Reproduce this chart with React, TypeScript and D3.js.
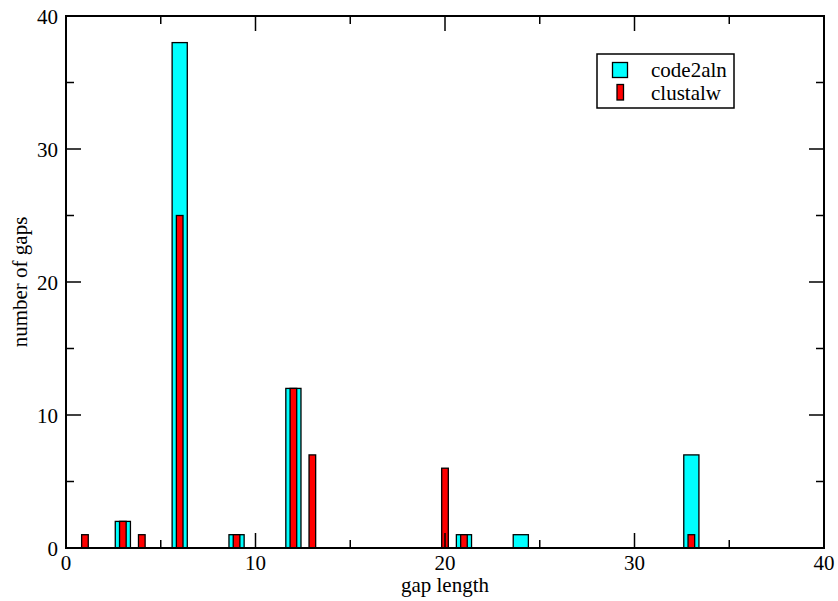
import React from "react";
import * as d3 from "d3";

const code2alnLengths = [3, 6, 9, 12, 21, 24, 33];
const code2alnCounts = [2, 38, 1, 12, 1, 1, 7];
const clustalwLengths = [1, 3, 4, 6, 9, 12, 13, 20, 21, 33];
const clustalwCounts = [1, 2, 1, 25, 1, 12, 7, 6, 1, 1];
const xMajorTicks = [0, 10, 20, 30, 40];
const xMinorTicks = [5, 15, 25, 35];
const yMajorTicks = [0, 10, 20, 30, 40];
const yMinorTicks = [5, 15, 25, 35];
const seriesNames = ["code2aln", "clustalw"];

const W = 838;
const H = 601;
const L = 66, R = 824, T = 16, B = 548;
const textStyle = { fontFamily: "'Liberation Serif', 'Times New Roman', serif", fontSize: "21px" };

export default function App() {
  const x = d3.scaleLinear().domain([0, 40]).range([L, R]);
  const y = d3.scaleLinear().domain([0, 40]).range([B, T]);
  const unit = x(1) - x(0);
  const cyanW = 0.8 * unit;
  const redW = 0.35 * unit;
  const major = 15, minor = 8;

  return (
    <div style={{ position: "absolute", left: 0, top: 0 }}>
      <svg width={W} height={H} style={{ display: "block", background: "#fff" }}>
        <rect x={0} y={0} width={W} height={H} fill="#fff" />
        {code2alnLengths.map((g, i) => (
          <rect key={"c" + i} x={x(g) - cyanW / 2} y={y(code2alnCounts[i])}
            width={cyanW} height={y(0) - y(code2alnCounts[i])}
            fill="#00ffff" stroke="#000" strokeWidth={1.3} />
        ))}
        {clustalwLengths.map((g, i) => (
          <rect key={"r" + i} x={x(g) - redW / 2} y={y(clustalwCounts[i])}
            width={redW} height={y(0) - y(clustalwCounts[i])}
            fill="#ff0000" stroke="#000" strokeWidth={1.3} />
        ))}
        <g stroke="#000" strokeWidth={1.5}>
          {xMajorTicks.map((t) => (
            <g key={"xm" + t}>
              <line x1={x(t)} x2={x(t)} y1={B} y2={B - major} />
              <line x1={x(t)} x2={x(t)} y1={T} y2={T + major} />
            </g>
          ))}
          {xMinorTicks.map((t) => (
            <g key={"xn" + t}>
              <line x1={x(t)} x2={x(t)} y1={B} y2={B - minor} />
              <line x1={x(t)} x2={x(t)} y1={T} y2={T + minor} />
            </g>
          ))}
          {yMajorTicks.map((t) => (
            <g key={"ym" + t}>
              <line x1={L} x2={L + major} y1={y(t)} y2={y(t)} />
              <line x1={R} x2={R - major} y1={y(t)} y2={y(t)} />
            </g>
          ))}
          {yMinorTicks.map((t) => (
            <g key={"yn" + t}>
              <line x1={L} x2={L + minor} y1={y(t)} y2={y(t)} />
              <line x1={R} x2={R - minor} y1={y(t)} y2={y(t)} />
            </g>
          ))}
        </g>
        <rect x={L} y={T} width={R - L} height={B - T} fill="none" stroke="#000" strokeWidth={2} />
        <g style={textStyle} fill="#000">
          {xMajorTicks.map((t) => (
            <text key={"xl" + t} x={x(t)} y={570} textAnchor="middle">{t}</text>
          ))}
          {yMajorTicks.map((t) => (
            <text key={"yl" + t} x={58} y={y(t) + 7.5} textAnchor="end">{t}</text>
          ))}
          <text x={(L + R) / 2} y={592} textAnchor="middle">gap length</text>
          <text transform={`translate(27, ${(T + B) / 2}) rotate(-90)`} textAnchor="middle">number of gaps</text>
        </g>
        <g>
          <rect x={597} y={54} width={137} height={54} fill="#fff" stroke="#000" strokeWidth={1.5} />
          <rect x={612.5} y={62.5} width={15} height={15} fill="#00ffff" stroke="#000" strokeWidth={1.3} />
          <rect x={617} y={84.5} width={6.5} height={15.5} fill="#ff0000" stroke="#000" strokeWidth={1.3} />
          <text x={651} y={77} style={textStyle}>{seriesNames[0]}</text>
          <text x={651} y={100} style={textStyle}>{seriesNames[1]}</text>
        </g>
      </svg>
    </div>
  );
}
